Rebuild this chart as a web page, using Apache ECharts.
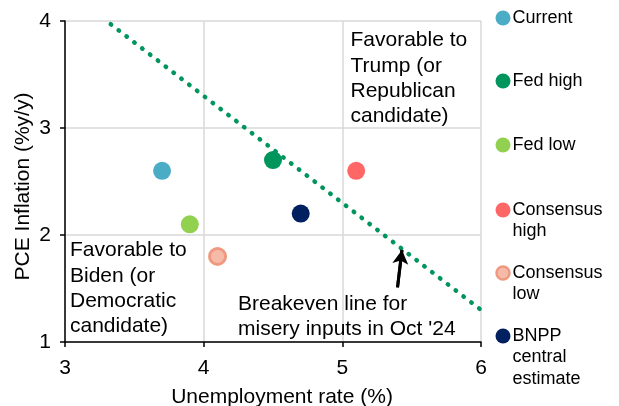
<!DOCTYPE html>
<html>
<head>
<meta charset="utf-8">
<script src="https://cdn.jsdelivr.net/npm/echarts@6/dist/echarts.min.js"></script>
<style>
  html, body { margin: 0; padding: 0; background: #fff; }
  #chart { width: 619px; height: 406px; }
</style>
</head>
<body>
<div id="chart"></div>
<script>
// Scenario names, legend wording and colours
const scenarioNames = ['Current', 'Fed high', 'Fed low', 'Consensus high', 'Consensus low', 'BNPP central estimate'];
const legendLabels = ['Current', 'Fed high', 'Fed low', 'Consensus\nhigh', 'Consensus\nlow', 'BNPP\ncentral\nestimate'];
const scenarioColors = ['#4BACC6', '#00955D', '#92D050', '#FF6666', '#F6BBA8', '#002060'];

// Unemployment rate (%) and PCE inflation (%y/y) per scenario
const unemployment = [3.7, 4.5, 3.9, 5.1, 4.1, 4.7];
const inflation = [2.6, 2.7, 2.1, 2.6, 1.8, 2.2];

// Breakeven misery-index line (unemployment + inflation = 7.3)
const breakevenU = [3.33, 6.0];
const breakevenPi = [3.97, 1.3];

// Arrow pointing at the breakeven line
const arrowU = [5.398, 5.43];
const arrowPi = [1.51, 1.86];

// Axis ticks
const xTicks = [3, 4, 5, 6];
const yTicks = [1, 2, 3, 4];

const FONT = 'Liberation Sans, Arial, sans-serif';

const chart = echarts.init(document.getElementById('chart'), null, { renderer: 'canvas' });

const scatterSeries = scenarioNames.map((name, i) => {
  const s = {
    name: name,
    type: 'scatter',
    symbol: 'circle',
    symbolSize: 18,
    data: [[unemployment[i], inflation[i]]],
    itemStyle: { color: scenarioColors[i], opacity: 1 },
    emphasis: { disabled: true },
    z: 3
  };
  if (name === 'Consensus low') {
    s.symbolSize = 16;
    s.itemStyle = { color: '#F6BBA8', borderColor: '#EF9A80', borderWidth: 3, opacity: 1 };
  }
  return s;
});

// Legend drawn as a column of circles with labels
const legendTop = [18, 81, 145, 210, 273, 336];
const legendGraphics = [];
legendLabels.forEach((label, i) => {
  const isLow = scenarioNames[i] === 'Consensus low';
  legendGraphics.push({
    type: 'circle',
    shape: { cx: 503, cy: legendTop[i], r: isLow ? 6.5 : 7.5 },
    style: isLow
      ? { fill: '#F6BBA8', stroke: '#EF9A80', lineWidth: 2.5 }
      : { fill: scenarioColors[i] },
    z: 10
  });
  legendGraphics.push({
    type: 'text',
    left: 512.5,
    top: legendTop[i] - 10.75,
    style: {
      text: label,
      fontFamily: FONT,
      fontSize: 18,
      lineHeight: 21.5,
      fill: '#000'
    },
    z: 10
  });
});

const annotationStyle = { fontFamily: FONT, fontSize: 21, lineHeight: 25.3, fill: '#000' };

const option = {
  animation: false,
  backgroundColor: '#fff',
  grid: { left: 65, right: 138, top: 21, bottom: 64, containLabel: false, outerBoundsMode: 'none' },
  xAxis: {
    type: 'value',
    min: xTicks[0],
    max: xTicks[xTicks.length - 1],
    interval: 1,
    name: 'Unemployment rate (%)',
    nameLocation: 'middle',
    nameGap: 45,
    nameMoveOverlap: false,
    nameTextStyle: { fontFamily: FONT, fontSize: 21, color: '#000', padding: [0, 0, 0, 18] },
    axisLine: { show: true, onZero: false, lineStyle: { color: '#000', width: 1.5 } },
    axisTick: { show: true, inside: false, length: 5, lineStyle: { color: '#000', width: 1.5 } },
    axisLabel: { fontFamily: FONT, fontSize: 21, color: '#000', margin: 16 },
    splitLine: { show: true, lineStyle: { color: '#D9D9D9', width: 1.5 } }
  },
  yAxis: {
    type: 'value',
    min: yTicks[0],
    max: yTicks[yTicks.length - 1],
    interval: 1,
    name: 'PCE Inflation (%y/y)',
    nameLocation: 'middle',
    nameGap: 31,
    nameMoveOverlap: false,
    nameRotate: 90,
    nameTextStyle: { fontFamily: FONT, fontSize: 21, color: '#000', padding: [0, 10, 0, 0] },
    axisLine: { show: true, onZero: false, lineStyle: { color: '#000', width: 1.5 } },
    axisTick: { show: true, inside: false, length: 5, lineStyle: { color: '#000', width: 1.5 } },
    axisLabel: { fontFamily: FONT, fontSize: 21, color: '#000', margin: 14 },
    splitLine: { show: true, lineStyle: { color: '#D9D9D9', width: 1.5 } }
  },
  series: scatterSeries.concat([
    {
      name: 'Breakeven',
      type: 'line',
      showSymbol: false,
      symbol: 'none',
      data: breakevenU.map((u, i) => [u, breakevenPi[i]]),
      lineStyle: { color: '#00955D', width: 4.5, type: [0.5, 9.4], cap: 'round' },
      emphasis: { disabled: true },
      z: 4
    },
    {
      name: 'Arrow',
      type: 'line',
      showSymbol: false,
      symbol: 'none',
      data: arrowU.map((u, i) => [u, arrowPi[i]]),
      lineStyle: { color: '#000', width: 3 },
      markLine: {
        silent: true,
        symbol: ['none', 'arrow'],
        symbolSize: [12, 14],
        label: { show: false },
        lineStyle: { color: '#000', width: 3, type: 'solid' },
        data: [[{ coord: [arrowU[0], arrowPi[0]] }, { coord: [arrowU[1], arrowPi[1]] }]]
      },
      emphasis: { disabled: true },
      z: 5
    }
  ]),
  graphic: legendGraphics.concat([
    {
      type: 'text', left: 350.5, top: 28,
      style: Object.assign({ text: 'Favorable to\nTrump (or\nRepublican\ncandidate)' }, annotationStyle),
      z: 10
    },
    {
      type: 'text', left: 70, top: 238,
      style: Object.assign({ text: 'Favorable to\nBiden (or\nDemocratic\ncandidate)' }, annotationStyle),
      z: 10
    },
    {
      type: 'text', left: 238, top: 292,
      style: Object.assign({ text: "Breakeven line for\nmisery inputs in Oct '24" }, annotationStyle, { lineHeight: 24.7 }),
      z: 10
    }
  ])
};

chart.setOption(option);
</script>
</body>
</html>
